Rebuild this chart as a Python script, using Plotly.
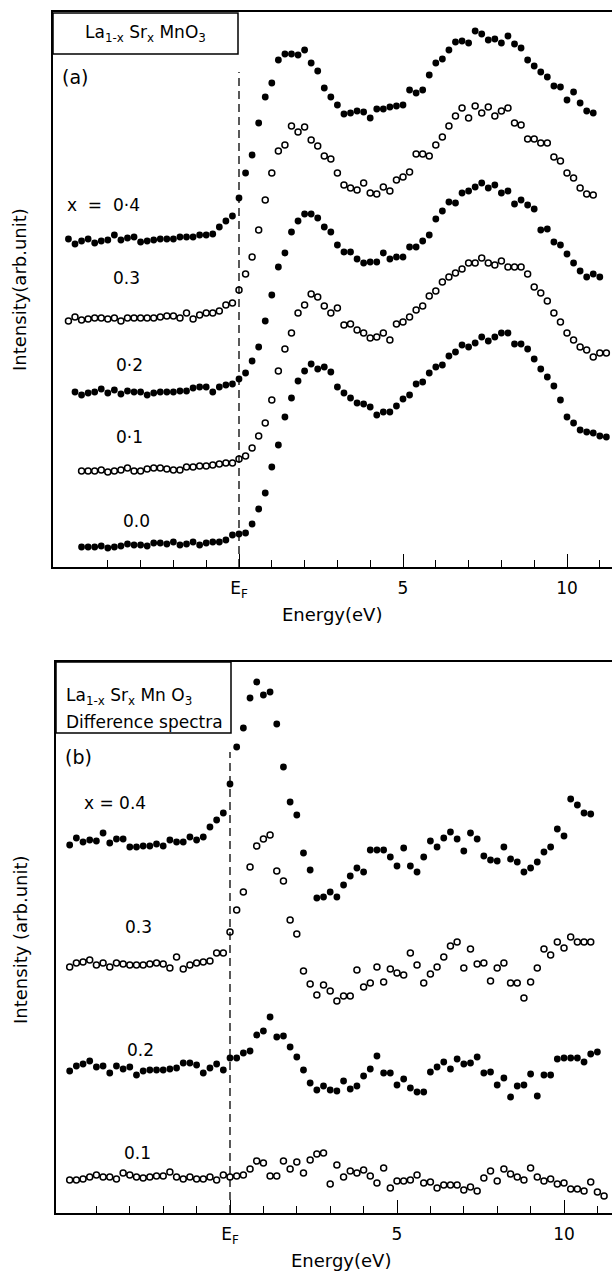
import plotly.graph_objects as go

W, H = 612, 1275

# ---------------- data: panel (a) La1-xSrxMnO3 spectra ----------------
E_A = [-5.2, -5.0, -4.8, -4.6, -4.4, -4.2, -4.0, -3.8, -3.6, -3.4, -3.2, -3.0,
       -2.8, -2.6, -2.4, -2.2, -2.0, -1.8, -1.6, -1.4, -1.2, -1.0, -0.8, -0.6,
       -0.4, -0.2, 0.0, 0.2, 0.4, 0.6, 0.8, 1.0, 1.2, 1.4, 1.6, 1.8, 2.0, 2.2,
       2.4, 2.6, 2.8, 3.0, 3.2, 3.4, 3.6, 3.8, 4.0, 4.2, 4.4, 4.6, 4.8, 5.0,
       5.2, 5.4, 5.6, 5.8, 6.0, 6.2, 6.4, 6.6, 6.8, 7.0, 7.2, 7.4, 7.6, 7.8,
       8.0, 8.2, 8.4, 8.6, 8.8, 9.0, 9.2, 9.4, 9.6, 9.8, 10.0, 10.2, 10.4,
       10.6, 10.8, 11.0, 11.2]

a_x04 = [328, 323, 326, 328, 324, 326, 327, 332, 327, 329, 330, 325, 326, 327,
         328, 328, 328, 330, 330, 330, 332, 332, 333, 340, 346, 351, 369,
         394, 412, 444, 470, 484, 507, 513, 513, 512, 517, 504, 496, 479, 470,
         462, 453, 454, 456, 455, 449, 458, 458, 460, 461, 462, 477, 474, 477,
         492, 504, 508, 517, 525, 526, 524, 536, 533, 527, 528, 524, 531, 523,
         519, 507, 501, 495, 490, 481, 480, 467, 475, 464, 456, 454]
a_x03 = [246, 250, 247, 248, 249, 249, 248, 249, 246, 249, 249, 249, 249, 249,
         250, 251, 251, 249, 254, 248, 252, 254, 254, 256, 262, 264, 277,
         293, 310, 337, 367, 394, 416, 422, 441, 435, 440, 427, 421, 411, 408,
         394, 382, 379, 377, 384, 374, 373, 380, 376, 387, 390, 395, 413, 413,
         411, 422, 430, 441, 451, 459, 449, 461, 454, 460, 451, 456, 459, 444,
         442, 428, 428, 424, 424, 410, 406, 394, 389, 379, 373, 372]
a_x02 = [175, 172, 174, 175, 178, 174, 177, 173, 176, 175, 175, 172, 174, 175,
         175, 175, 176, 176, 179, 180, 180, 175, 180, 182, 183, 188,
         194, 206, 220, 246, 272, 300, 314, 335, 346, 353, 353, 349, 340, 335,
         322, 315, 315, 308, 304, 305, 305, 314, 308, 310, 310, 320, 320, 326,
         332, 348, 356, 365, 364, 374, 376, 380, 384, 379, 382, 374, 376, 363,
         367, 362, 358, 337, 338, 325, 322, 313, 304, 296, 290, 293, 290]
a_x01 = [96, 96, 96, 97, 95, 96, 97, 99, 96, 96, 98, 99, 99, 98, 97, 97, 100,
         100, 101, 101, 102, 103, 104, 104, 108,
         111, 119, 131, 144, 167, 196, 218, 234, 254, 262, 273, 270, 261, 254,
         259, 242, 243, 237, 234, 229, 230, 234, 227, 243, 245, 250, 257, 261,
         271, 276, 285, 290, 294, 298, 304, 304, 309, 304, 302, 306, 300, 300,
         300, 293, 280, 274, 266, 254, 245, 234, 227, 220, 217, 210, 214, 214]
a_x00 = [20, 20, 20, 21, 19, 20, 21, 23, 22, 22, 21, 24, 24, 23, 25, 22, 23,
         25, 22, 24, 25, 25, 27, 32, 33,
         34, 43, 58, 74, 100, 122, 150, 169, 186, 196, 203, 198, 200, 195, 180,
         174, 169, 164, 163, 160, 152, 155, 155, 161, 168, 172, 183, 185, 194,
         200, 202, 211, 215, 222, 220, 224, 230, 226, 230, 234, 234, 223, 223,
         218, 208, 198, 190, 181, 167, 150, 144, 137, 135, 134, 131, 130]
# first energy of each series in panel (a)
a_start = {"0.4": -5.2, "0.3": -5.2, "0.2": -5.0, "0.1": -4.8, "0.0": -4.8}

# ---------------- data: panel (b) difference spectra ----------------
E_B = E_A[2:]  # -4.8 ... 11.2

b_x04 = [368, 375, 371, 373, 372, 380, 370, 374, 374, 366, 366, 367, 367, 369,
         367, 373, 371, 371, 376, 373, 376, 386, 393, 400, 429,
         466, 485, 515, 531, 518, 521, 489, 446, 411, 398, 360, 343, 315, 316,
         321, 316, 328, 337, 345, 341, 363, 363, 363, 356, 347, 365, 347, 341,
         356, 372, 366, 375, 381, 374, 362, 380, 374, 357, 353, 352, 366, 354,
         351, 341, 345, 351, 361, 366, 384, 377, 414, 408, 400, 399]
b_x03 = [246, 250, 251, 253, 248, 250, 246, 250, 249, 248, 248, 248, 249, 250,
         249, 245, 256, 244, 248, 250, 251, 252, 260, 260,
         281, 303, 321, 346, 367, 374, 378, 342, 332, 293, 279, 242, 229, 218,
         228, 222, 212, 217, 217, 243, 226, 230, 246, 231, 244, 240, 238, 260,
         248, 230, 239, 246, 256, 267, 271, 245, 264, 249, 250, 232, 245, 250,
         230, 230, 215, 231, 245, 264, 258, 271, 265, 276, 271, 271, 271]
b_x02 = [142, 147, 149, 152, 146, 147, 140, 147, 144, 146, 138, 142, 143, 143,
         143, 144, 145, 150, 150, 148, 140, 145, 149, 143,
         155, 155, 160, 162, 178, 182, 196, 176, 177, 166, 156, 143, 130, 123,
         127, 123, 122, 132, 124, 127, 137, 144, 157, 140, 140, 128, 134, 125,
         121, 121, 141, 146, 151, 144, 154, 149, 150, 156, 140, 141, 128, 135,
         116, 127, 128, 139, 117, 138, 138, 154, 155, 155, 155, 151, 159, 161]
b_x01 = [33, 33, 34, 36, 38, 36, 36, 34, 40, 38, 36, 35, 36, 37, 37, 41, 36,
         34, 36, 34, 34, 36, 33, 38, 36,
         37, 38, 44, 52, 50, 37, 37, 52, 44, 51, 40, 53, 59, 60, 29, 48, 36,
         42, 40, 43, 37, 30, 45, 25, 32, 32, 33, 38, 30, 31, 25, 28, 28, 28,
         23, 26, 22, 35, 42, 32, 44, 39, 36, 33, 45, 36, 32, 34, 29, 30, 24,
         24, 22, 31, 21, 17]
b_start = {"0.4": -4.8, "0.3": -4.8, "0.2": -4.8, "0.1": -4.8}

# ---------------- helpers ----------------
def px(x):
    return x / W


def py(y):
    return 1 - y / H


def seg(grid, start, vals):
    i = min(range(len(grid)), key=lambda k: abs(grid[k] - start))
    return grid[i:i + len(vals)]


FILLED = dict(symbol="circle", size=6.8, color="black")
OPEN = dict(symbol="circle-open", size=6.0, color="black", line=dict(width=1.5, color="black"))

fig = go.Figure()

series_a = [("0.4", a_x04, FILLED), ("0.3", a_x03, OPEN), ("0.2", a_x02, FILLED),
            ("0.1", a_x01, OPEN), ("0.0", a_x00, FILLED)]
for name, vals, mk in series_a:
    fig.add_trace(go.Scatter(x=seg(E_A, a_start[name], vals), y=vals, mode="markers",
                             marker=mk, xaxis="x", yaxis="y", showlegend=False,
                             name="x = " + name))

series_b = [("0.4", b_x04, FILLED), ("0.3", b_x03, OPEN), ("0.2", b_x02, FILLED),
            ("0.1", b_x01, OPEN)]
for name, vals, mk in series_b:
    fig.add_trace(go.Scatter(x=seg(E_B, b_start[name], vals), y=vals, mode="markers",
                             marker=mk, xaxis="x2", yaxis="y2", showlegend=False,
                             name="x = " + name))

FONT = "DejaVu Sans"
tick_text = ["E<sub>F</sub>", "5", "10"]
minor_vals = [-4, -3, -2, -1, 1, 2, 3, 4, 6, 7, 8, 9, 11]

xcommon = dict(showline=True, linecolor="black", linewidth=1.7, mirror=True,
               showgrid=False, zeroline=False, ticks="inside", ticklen=13,
               tickwidth=1.4, tickcolor="black", tickmode="array",
               tickvals=[0, 5, 10], ticktext=tick_text,
               tickfont=dict(family=FONT, size=17, color="black"),
               ticklabelstandoff=5,
               minor=dict(ticks="inside", ticklen=7, tickwidth=1.3, tickcolor="black",
                          tickmode="array", tickvals=minor_vals, showgrid=False))
ycommon = dict(showline=True, linecolor="black", linewidth=1.7, showgrid=False,
               zeroline=False, showticklabels=False, ticks="")

fig.update_layout(
    width=W, height=H, margin=dict(l=0, r=0, t=0, b=0),
    paper_bgcolor="white", plot_bgcolor="white",
    font=dict(family=FONT, color="black"),
    xaxis=dict(xcommon, domain=[px(53), 1], range=[(53 - 239) / 32.8, (612 - 239) / 32.8],
               anchor="y"),
    yaxis=dict(ycommon, domain=[py(567), py(12)], range=[0, 555], anchor="x"),
    xaxis2=dict(xcommon, domain=[px(56), 1], range=[(56 - 230) / 33.4, (612 - 230) / 33.4],
                anchor="y2"),
    yaxis2=dict(ycommon, domain=[py(1213), py(662)], range=[0, 551], anchor="x2"),
)

# E_F dashed lines
fig.add_shape(type="line", xref="x", yref="y", x0=0, x1=0, y0=0, y1=495,
              line=dict(color="black", width=1.3, dash="8px,5px"))
fig.add_shape(type="line", xref="x2", yref="y2", x0=0, x1=0, y0=0, y1=461,
              line=dict(color="black", width=1.3, dash="8px,5px"))

# title boxes
fig.add_shape(type="rect", xref="paper", yref="paper", x0=px(53), x1=px(238),
              y0=py(54), y1=py(13), line=dict(color="black", width=1.5),
              fillcolor="rgba(0,0,0,0)")
fig.add_shape(type="rect", xref="paper", yref="paper", x0=px(56), x1=px(231),
              y0=py(733), y1=py(662), line=dict(color="black", width=1.5),
              fillcolor="rgba(0,0,0,0)")


def note(text, x, y, size=15, anchor="center", angle=0):
    fig.add_annotation(text=text, xref="paper", yref="paper", x=px(x), y=py(y),
                       xanchor=anchor, yanchor="middle", showarrow=False,
                       textangle=angle, font=dict(family=FONT, size=size, color="black"))


# panel (a) texts
note("La<sub>1-x</sub> Sr<sub>x</sub> MnO<sub>3</sub>", 145, 34, 17)
note("(a)", 60, 77, 19, "left")
note("x  =  0·4", 65, 205, 17, "left")
note("0.3", 126, 278, 17)
note("0·2", 129, 365, 17)
note("0·1", 129, 437, 17)
note("0.0", 136, 521, 17)
note("Energy(eV)", 332, 614, 18)
note("Intensity(arb.unit)", 20, 290, 18, angle=-90)

# panel (b) texts
note("La<sub>1-x</sub> Sr<sub>x</sub> Mn O<sub>3</sub>", 64, 696, 17, "left")
note("Difference spectra", 64, 722, 17, "left")
note("(b)", 63, 757, 19, "left")
note("x = 0.4", 82, 803, 17, "left")
note("0.3", 138, 927, 17)
note("0.2", 140, 1050, 17)
note("0.1", 137, 1153, 17)
note("Energy(eV)", 341, 1260, 18)
note("Intensity (arb.unit)", 20, 940, 18, angle=-90)

fig.write_html("out.html")
